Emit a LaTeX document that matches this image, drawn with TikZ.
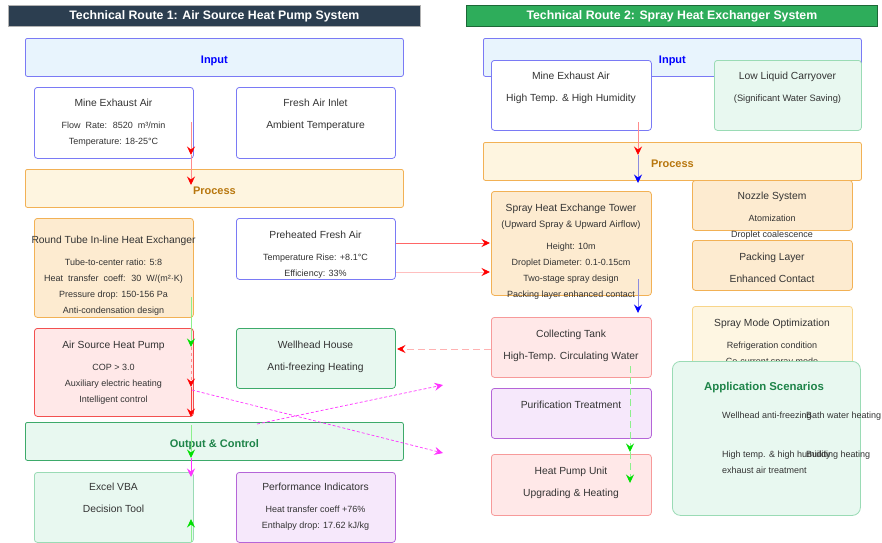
\documentclass[tikz,border=0pt]{standalone}
\usepackage{fontspec}
\setmainfont{Liberation Sans}
\usetikzlibrary{arrows.meta}

\definecolor{blutitolo}{HTML}{2C3E50}
\definecolor{verdetitolo}{HTML}{2EAD5B}
\definecolor{inputfill}{HTML}{E8F4FD}
\definecolor{bordoblu}{HTML}{7A7AF5}
\definecolor{procfill}{HTML}{FEF5E0}
\definecolor{bordoarancio}{HTML}{F2B155}
\definecolor{testoproc}{HTML}{B8770E}
\definecolor{arancio}{HTML}{FDEBD0}
\definecolor{rosafill}{HTML}{FFE8E8}
\definecolor{bordorosso}{HTML}{F25050}
\definecolor{rossochiaro}{HTML}{F79A9A}
\definecolor{verdefill}{HTML}{E8F8F0}
\definecolor{bordoverde}{HTML}{3DAA6A}
\definecolor{verdechiaro}{HTML}{9ADBB5}
\definecolor{testoverde}{HTML}{1E8449}
\definecolor{violafill}{HTML}{F6E8FB}
\definecolor{bordoviola}{HTML}{B565D8}
\definecolor{giallofill}{HTML}{FEF6E2}
\definecolor{bordogiallo}{HTML}{F8D58A}
\definecolor{testo}{HTML}{333333}
\definecolor{rosa}{HTML}{FF8C8C}
\definecolor{verdelinea}{HTML}{8CF08C}
\definecolor{verdepunta}{HTML}{00E000}
\definecolor{magenta2}{HTML}{FF33FF}
\definecolor{blulinea}{HTML}{8C8CE0}

\newcommand{\ttl}{\fontsize{10.3}{16}\selectfont}
\newcommand{\sml}{\fontsize{9.3}{16}\selectfont}

\begin{document}
\begin{tikzpicture}[
    x=1pt, y=-1pt,
    every node/.style={align=center, inner sep=0pt, text=testo},
    % barre del titolo
    titolo/.style={rectangle, anchor=north west, minimum height=21, line width=0.8pt,
        text=white, font=\fontsize{12.3}{14}\selectfont\bfseries},
    % fasce Input / Process / Output
    fascia/.style={rectangle, rounded corners=2pt, anchor=north west, minimum width=378,
        minimum height=38, line width=0.8pt, text height=12pt, text depth=0pt,
        font=\fontsize{11}{13}\selectfont\bfseries},
    % riquadri
    box/.style={rectangle, rounded corners=3pt, anchor=north west, minimum width=159, line width=0.8pt},
    % testi nei riquadri
    lbl/.style={anchor=north, font=\fontsize{9}{16}\selectfont},
    % frecce
    freccia/.style={line width=0.9pt, -{Stealth[length=8.5pt,width=8pt,inset=3pt,color=#1]}}
]

\useasboundingbox (0,0) rectangle (882,542);

% --- ROUTE 1 ---
\node[titolo, fill=blutitolo, draw=gray!60, minimum width=412] (tit1) at (8,5)
    {Technical Route 1: Air Source Heat Pump System};

\node[fascia, fill=inputfill, draw=bordoblu, text=blue] (in1) at (25,38) {Input};
\node[box, minimum height=71, fill=white, draw=bordoblu] (mine1) at (34,87) {};
\node[lbl] (mine1-t) at (113.5,99) {{\ttl Mine Exhaust Air}\\[6pt]
    Flow~ Rate:~ 8520~ m³/min\\ Temperature: 18-25°C};
\node[box, minimum height=71, fill=white, draw=bordoblu] (fresh) at (236,87) {};
\node[lbl] (fresh-t) at (315.5,99) {{\ttl Fresh Air Inlet}\\[6pt] {\ttl Ambient Temperature}};

\node[fascia, fill=procfill, draw=bordoarancio, text=testoproc] (proc1) at (25,169) {Process};
\node[box, minimum height=99, fill=arancio, draw=bordoarancio] (tube) at (34,218) {};
\node[lbl] (tube-t) at (113.5,236) {{\ttl Round Tube In-line Heat Exchanger}\\[6pt]
    Tube-to-center ratio: 5:8\\ Heat~ transfer~ coeff:~ 30~ W/(m²·K)\\
    Pressure drop: 150-156 Pa\\ Anti-condensation design};
\node[box, minimum height=61, fill=white, draw=bordoblu] (preheat) at (236,218) {};
\node[lbl] (preheat-t) at (315.5,231) {{\ttl Preheated Fresh Air}\\[6pt]
    Temperature Rise: +8.1°C\\ Efficiency: 33\%};

\node[box, minimum height=88, fill=rosafill, draw=bordorosso] (ashp) at (34,328) {};
\node[lbl] (ashp-t) at (113.5,341) {{\ttl Air Source Heat Pump}\\[6pt]
    COP > 3.0\\ Auxiliary electric heating\\ Intelligent control};
\node[box, minimum height=60, fill=verdefill, draw=bordoverde] (well) at (236,328) {};
\node[lbl] (well-t) at (315.5,341) {{\ttl Wellhead House}\\[6pt] {\ttl Anti-freezing Heating}};

\node[fascia, fill=verdefill, draw=bordoverde, text=testoverde] (out1) at (25,422) {Output \& Control};
\node[box, minimum height=70, fill=verdefill, draw=verdechiaro] (excel) at (34,472) {};
\node[lbl] (excel-t) at (113.5,483) {{\ttl Excel VBA}\\[6pt] {\ttl Decision Tool}};
\node[box, minimum height=70, fill=violafill, draw=bordoviola] (perf) at (236,472) {};
\node[lbl] (perf-t) at (315.5,483) {{\ttl Performance Indicators}\\[6pt]
    Heat transfer coeff +76\%\\ Enthalpy drop: 17.62 kJ/kg};

% --- ROUTE 2 ---
\node[titolo, fill=verdetitolo, draw=verdetitolo!60!black, minimum width=411] (tit2) at (466,5)
    {Technical Route 2: Spray Heat Exchanger System};

\node[fascia, fill=inputfill, draw=bordoblu, text=blue] (in2) at (483,38) {Input};
\node[box, minimum width=160, minimum height=70, fill=white, draw=bordoblu] (mine2) at (491,60) {};
\node[lbl] (mine2-t) at (571,72) {{\ttl Mine Exhaust Air}\\[6pt] {\ttl High Temp. \& High Humidity}};
\node[box, minimum width=147, minimum height=70, fill=verdefill, draw=verdechiaro] (carry) at (714,60) {};
\node[lbl] (carry-t) at (787.5,72) {{\ttl Low Liquid Carryover}\\[6pt] {\sml (Significant Water Saving)}};

\node[fascia, fill=procfill, draw=bordoarancio, text=testoproc] (proc2) at (483,142) {Process};
\node[box, minimum width=160, minimum height=104, fill=arancio, draw=bordoarancio] (tower) at (491,191) {};
\node[lbl] (tower-t) at (571,204) {{\ttl Spray Heat Exchange Tower}\\
    {\sml (Upward Spray \& Upward Airflow)}\\[6pt]
    Height: 10m\\ Droplet Diameter: 0.1-0.15cm\\ Two-stage spray design\\
    Packing layer enhanced contact};
\node[box, minimum width=160, minimum height=50, fill=arancio, draw=bordoarancio] (nozzle) at (692,180) {};
\node[lbl] (nozzle-t) at (772,192) {{\ttl Nozzle System}\\[6pt] Atomization\\ Droplet coalescence};
\node[box, minimum width=160, minimum height=50, fill=arancio, draw=bordoarancio] (pack) at (692,240) {};
\node[lbl] (pack-t) at (772,253) {{\ttl Packing Layer}\\[6pt] {\ttl Enhanced Contact}};
\node[box, minimum width=160, minimum height=70, fill=giallofill, draw=bordogiallo] (mode) at (692,306) {};
\node[lbl] (mode-t) at (772,319) {{\ttl Spray Mode Optimization}\\[6pt]
    Refrigeration condition\\ Co-current spray mode};

\node[box, minimum width=160, minimum height=60, fill=rosafill, draw=rossochiaro] (tank) at (491,317) {};
\node[lbl] (tank-t) at (571,330) {{\ttl Collecting Tank}\\[6pt] {\ttl High-Temp. Circulating Water}};
\node[box, minimum width=160, minimum height=50, fill=violafill, draw=bordoviola] (purif) at (491,388) {};
\node[lbl] (purif-t) at (571,401) {{\ttl Purification Treatment}};
\node[box, minimum width=160, minimum height=61, fill=rosafill, draw=rossochiaro] (hpu) at (491,454) {};
\node[lbl] (hpu-t) at (571,467) {{\ttl Heat Pump Unit}\\[6pt] {\ttl Upgrading \& Heating}};

% Application Scenarios
\node[box, rounded corners=8pt, minimum width=188, minimum height=154, fill=verdefill, draw=verdechiaro] (app) at (672,361) {};
\node[text=testoverde, font=\fontsize{11.4}{14}\selectfont\bfseries] (app-t) at (764,388) {Application Scenarios};
\node[lbl, anchor=north west] (app-a) at (722,412) {Wellhead anti-freezing};
\node[lbl, anchor=north west] (app-b) at (806,412) {Bath water heating};
\node[lbl, anchor=north west, align=left] (app-c) at (722,451) {High temp. \& high humidity\\ exhaust air treatment};
\node[lbl, anchor=north west] (app-d) at (806,451) {Building heating};

% --- FRECCE ---
\coordinate (a1) at (191,122);
\coordinate (a2) at (191,155);
\coordinate (a3) at (191,185);
\coordinate (a4) at (191,297);
\coordinate (a5) at (191,347);
\coordinate (a6) at (191,387);
\coordinate (a7) at (191,417);
\coordinate (a8) at (191,425);
\coordinate (a9) at (191,458);
\coordinate (a10) at (191,477);
\coordinate (a11) at (191,542);
\coordinate (a12) at (191,519);
\draw[freccia=red, draw=rosa] (a1) -- (a2);
\draw[freccia=red, draw=rosa] (a2) -- (a3);
\draw[freccia=verdepunta, draw=verdelinea] (a4) -- (a5);
\draw[freccia=red, draw=rosa, dashed] (a5) -- (a6);
\draw[freccia=red, draw=red!75] (a6) -- (a7);
\draw[freccia=verdepunta, draw=verdelinea] (a8) -- (a9);
\draw[freccia=magenta2, draw=magenta2] (a9) -- (a10);
\draw[freccia=verdepunta, draw=verdelinea] (a11) -- (a12);

% incrocio magenta
\coordinate (m1) at (192,390);
\coordinate (m2) at (443,453);
\coordinate (m3) at (257,424);
\coordinate (m4) at (443,385);
\draw[freccia=magenta2, draw=magenta2, line width=0.7pt, dash pattern=on 3pt off 2pt] (m1) -- (m2);
\draw[freccia=magenta2, draw=magenta2, line width=0.7pt, dash pattern=on 3pt off 2pt] (m3) -- (m4);

% tra le due route
\coordinate (h1) at (396,243);
\coordinate (h2) at (490,243);
\coordinate (h3) at (396,272);
\coordinate (h4) at (490,272);
\coordinate (h5) at (491,349);
\coordinate (h6) at (397,349);
\draw[freccia=red, draw=red!60] (h1) -- (h2);
\draw[freccia=red, draw=red!25] (h3) -- (h4);
\draw[freccia=red, draw=red!30, dash pattern=on 7pt off 4pt] (h5) -- (h6);

% route 2
\coordinate (b1) at (638,122);
\coordinate (b2) at (638,155);
\coordinate (b3) at (638,183);
\coordinate (b4) at (638,279);
\coordinate (b5) at (638,313);
\coordinate (b6) at (630,366);
\coordinate (b7) at (630,452);
\coordinate (b8) at (630,483);
\draw[freccia=red, draw=rosa] (b1) -- (b2);
\draw[freccia=blue, draw=blulinea] (b2) -- (b3);
\draw[freccia=blue, draw=blulinea] (b4) -- (b5);
\draw[freccia=verdepunta, draw=verdelinea, dash pattern=on 7pt off 4pt] (b6) -- (b7);
\draw[freccia=verdepunta, draw=verdelinea, dash pattern=on 7pt off 4pt] (b7) -- (b8);

\end{tikzpicture}
\end{document}
